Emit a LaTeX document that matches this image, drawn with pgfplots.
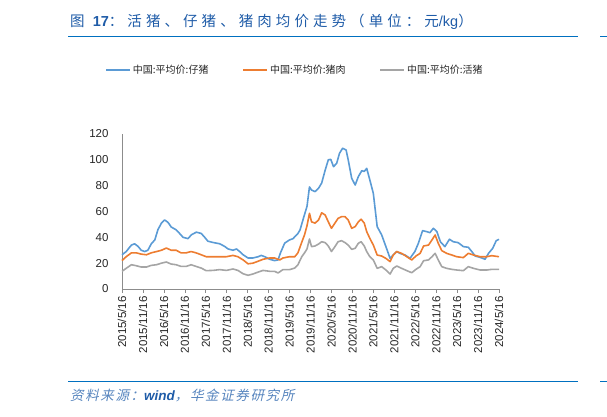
\documentclass[border=0pt]{standalone}
\usepackage{fontspec}
\setmainfont{Liberation Sans}
\newfontfamily\cjk{Noto Sans CJK SC}
\newfontfamily\cjkt[LetterSpace=28]{Noto Sans CJK SC}
\newfontfamily\cjkit[FakeSlant=0.22,LetterSpace=12]{Noto Sans CJK SC}
\usepackage{pgfplots}
\pgfplotsset{compat=1.18}
\definecolor{cblue}{HTML}{5B9BD5}
\definecolor{corange}{HTML}{ED7D31}
\definecolor{cgray}{HTML}{A5A5A5}
\definecolor{tblue}{HTML}{1F5CA8}
\definecolor{lblue}{HTML}{0070C0}
\definecolor{axgray}{HTML}{8C8C8C}
\begin{document}
\begin{tikzpicture}
\useasboundingbox (0pt,0pt) rectangle (607pt,417pt);
% title
\node[anchor=west, inner sep=0, text=tblue, font=\fontsize{14.5}{16}\selectfont] at (70pt,395pt)
 {{\cjkt 图} \textbf{17}{\cjkt ：活猪、仔猪、猪肉均价走势（单位：元}/kg{\cjkt ）}};
\draw[lblue, line width=1pt] (68pt,380pt) -- (578pt,380pt);
\draw[lblue, line width=1pt] (600pt,380pt) -- (607pt,380pt);
% footer
\draw[lblue, line width=1pt] (68pt,35pt) -- (578pt,35pt);
\draw[lblue, line width=1pt] (600pt,35pt) -- (607pt,35pt);
\node[anchor=west, inner sep=0, text=tblue!75, font=\fontsize{13.5}{15}\selectfont] at (70pt,22pt)
 {{\cjkit 资料来源：}{\color{tblue}\bfseries\itshape wind}{\cjkit ，华金证券研究所}};
\begin{axis}[
  at={(122pt,128pt)}, anchor=south west,
  scale only axis, width=377pt, height=155pt,
  xmin=0, xmax=108, ymin=0, ymax=120,
  axis x line*=bottom, axis y line*=left,
  axis line style={axgray, line width=0.6pt},
  xtick={0,6,...,108},
  xticklabels={2015/5/16,2015/11/16,2016/5/16,2016/11/16,2017/5/16,2017/11/16,2018/5/16,2018/11/16,2019/5/16,2019/11/16,2020/5/16,2020/11/16,2021/5/16,2021/11/16,2022/5/16,2022/11/16,2023/5/16,2023/11/16,2024/5/16},
  ytick={0,20,...,120},
  x tick style={axgray, line width=0.6pt}, major tick length=4pt,
  y tick style={draw=none},
  tick align=outside,
  xticklabel style={rotate=90, anchor=east, font=\fontsize{11.5}{13}\selectfont, text=black!85},
  yticklabel style={font=\fontsize{11.5}{13}\selectfont, text=black!85, xshift=-6pt},
  /pgf/number format/assume math mode=true,
  legend columns=3,
  legend style={draw=none, fill=none, at={(0.459,1.413)}, anchor=center,
    font=\cjk\fontsize{10}{12}\selectfont, text=black!85,
    /tikz/every even column/.append style={column sep=32pt}},
  legend image code/.code={\draw[#1, line width=1.5pt] (0pt,0pt) -- (24pt,0pt);},
  every axis plot/.append style={line width=1.6pt, line join=round},
  clip=false,
]
\addplot[cblue, mark=none] coordinates {
(0,26.5)(1.2,29)(2.7,34)(3.6,35)(4.6,33)(5.5,30)(6.5,29)(7.4,30)(8.4,35)(9.4,38)(10.3,46)(11.3,51)(12.2,53.5)(13.2,51.5)(14.1,48)(15.4,46)(16.5,43)(17.5,40)(18.9,39)(19.9,42)(21.3,44)(22.7,43)(23.7,40)(24.6,37)(26.1,36)(28,35)(29.4,33)(30.4,31)(31.8,30)(32.8,31)(33.7,29)(34.7,26.5)(36.1,24)(37.5,24)(39,25)(39.9,26)(40.9,25)(42.3,23)(43.7,22)(44.7,22.5)(45.4,28)(46.6,35.5)(48,38)(49,39)(50.4,43)(51,45.7)(52,55)(53,64)(53.7,79)(54.3,76.6)(55.3,75.4)(56.3,78)(57.2,82)(58.2,92)(59.1,100)(59.8,100.4)(60.6,94.7)(61.5,97.3)(62.3,105)(63.2,109)(64.2,107.6)(64.8,100)(65.8,85.7)(66.8,80.5)(67.7,87)(68.7,91.6)(69.4,91)(70.1,93.4)(71,84.4)(72,74)(73.1,48.3)(74.4,41.8)(75.6,32.8)(76.8,23.7)(77.7,26.3)(78.7,29)(79.6,27.6)(81.1,26.3)(82.5,23.7)(83.9,29)(84.9,35.4)(86.1,45.2)(87.3,44.4)(88.2,43.6)(89.2,47)(90.2,44.4)(91.2,36.6)(92.5,32.8)(93.8,38.5)(94.9,36.6)(96.3,35.9)(97.8,32.8)(99.2,32.3)(100.2,29)(101.2,25.5)(102.6,24.5)(104,23)(105,27.6)(106.2,31.5)(107.2,37.4)(108,38.5)
};
\addlegendentry{中国:平均价:仔猪}
\addplot[corange, mark=none] coordinates {
(0,22)(1.2,25)(2.7,28)(4.1,28)(5.5,27)(7,26.5)(8.4,28)(9.9,29)(11.3,30)(12.7,31.7)(14.1,30)(15.5,30)(16.9,28)(18.4,28)(19.8,29)(21.2,28)(22.7,26.5)(24.1,25)(26.1,25)(28,25)(29.9,25)(31.8,26)(33.2,25)(34.7,22.5)(36.1,19.5)(37.5,20)(39,21.5)(40.4,23)(42.3,24)(43.7,24)(45.2,22.5)(46.1,24)(48,25)(49.5,25)(50.4,28)(51.4,35.5)(52.3,42)(53,49)(53.7,58.6)(54.3,52)(55.3,51)(56.3,53.4)(57.2,59)(58.2,57.3)(59.1,52)(60,47)(61,51)(61.9,54.7)(62.9,56)(63.9,56)(64.8,53.4)(65.8,47)(66.8,48.3)(67.7,52)(68.5,54)(69.4,51)(70.1,44.4)(71,39.2)(72,34)(73.1,26.3)(74.4,25.5)(75.6,23.7)(76.8,21.2)(77.7,26.3)(78.7,29)(80.1,27.6)(81.6,25)(83,22.5)(84.2,25.5)(85.4,27.6)(86.4,33.3)(87.8,34)(88.8,38)(89.7,41.8)(90.6,35.4)(91.6,29.7)(93,27.6)(94.5,26.3)(95.9,25)(97.8,24.3)(99.2,27.6)(100.7,26.3)(102.6,25)(104.5,25)(105.9,25.8)(108,25)
};
\addlegendentry{中国:平均价:猪肉}
\addplot[cgray, mark=none] coordinates {
(0,13.7)(1.2,16)(2.7,18.8)(4.1,18)(5.5,17)(7,17)(8.4,18.3)(9.9,18.8)(11.3,20)(12.7,20.9)(14.1,19.3)(15.5,18.8)(16.9,17.5)(18.4,17.5)(19.8,18.8)(21.2,17.5)(22.7,16.2)(24.1,14.2)(26.1,14.4)(28,15)(29.9,14.4)(31.8,15.5)(33.2,14.4)(34.7,11.8)(36.1,10.6)(37.5,11.6)(39,13.1)(40.4,14.4)(42.3,13.7)(43.7,13.7)(44.7,12.4)(46.1,15)(48,15)(49.5,16.2)(50.4,18.8)(51.5,25)(52.3,28)(53,31)(53.7,38.7)(54.3,32.8)(55.3,33.3)(56.3,34.8)(57.2,36.6)(58.2,35.9)(59.1,33.3)(60,29)(61,32.8)(61.9,36.6)(62.9,37.4)(63.9,35.9)(64.8,34)(65.8,30.7)(66.8,31.5)(67.7,35.4)(68.5,36.6)(69.4,33.3)(70.1,29)(71,25)(72,22.5)(73.1,16)(74.4,17.3)(75.6,14.7)(76.8,11.6)(77.7,16)(78.7,17.8)(80.1,16)(81.6,14.2)(83,12.6)(84.2,15.2)(85.4,17.3)(86.4,21.9)(87.8,22.5)(88.8,25)(89.7,27.6)(90.6,22.5)(91.6,17.3)(93,16)(94.5,15.2)(95.9,14.7)(97.8,14.2)(99.2,17.3)(100.7,16)(102.6,14.7)(104.5,14.7)(105.9,15.2)(108,15.2)
};
\addlegendentry{中国:平均价:活猪}
\end{axis}
\end{tikzpicture}
\end{document}
